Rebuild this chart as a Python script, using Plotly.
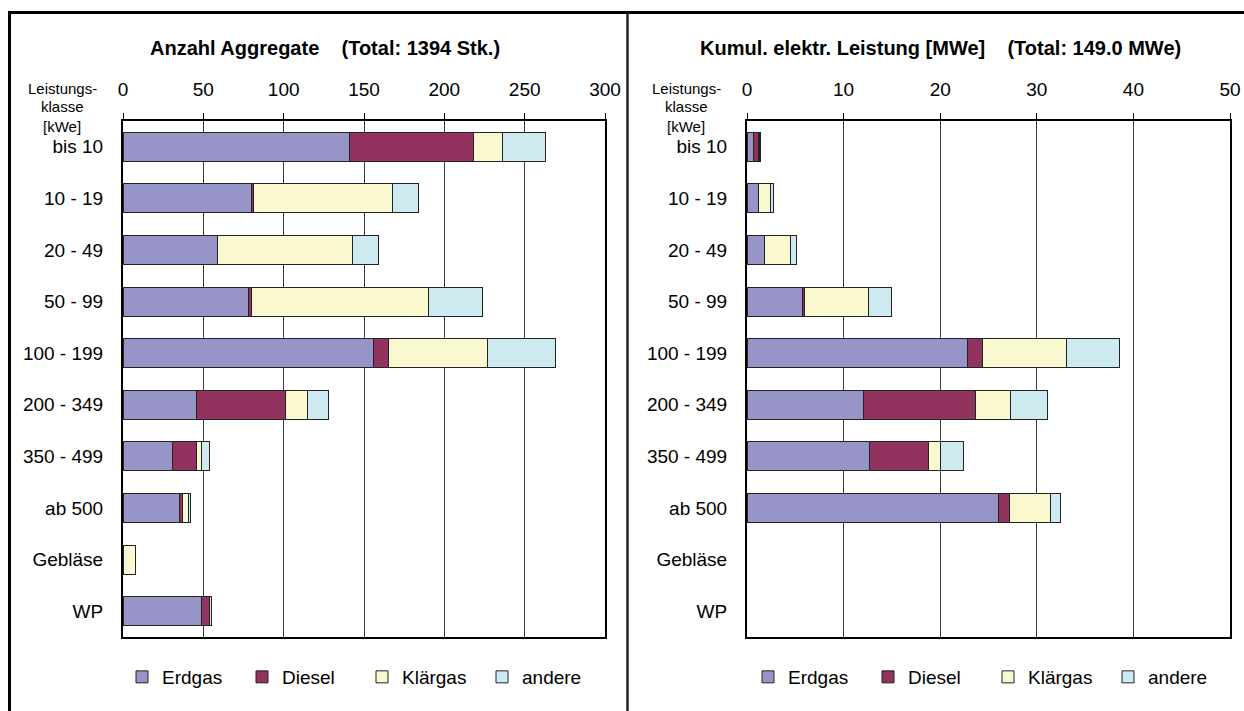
import plotly.graph_objects as go
from plotly.subplots import make_subplots

W, H = 1244, 711

# categories (Leistungsklasse)
klassen = ["bis 10", "10 - 19", "20 - 49", "50 - 99", "100 - 199",
           "200 - 349", "350 - 499", "ab 500", "Gebläse", "WP"]

# Anzahl Aggregate [Stk.]
anz_erdgas = [141, 80, 59, 78, 156, 46, 31, 35, 0, 49]
anz_diesel = [77, 1, 0, 2, 9, 55, 15, 2, 0, 5]
anz_klaergas = [18, 87, 84, 110, 62, 14, 3, 4, 8, 0]
anz_andere = [27, 16, 16, 34, 42, 13, 5, 1, 0, 1]

# Kumul. elektr. Leistung [MWe]
mw_erdgas = [0.7, 1.24, 1.79, 5.76, 22.8, 12.1, 12.7, 26.0, 0, 0]
mw_diesel = [0.45, 0.0, 0.0, 0.2, 1.55, 11.6, 6.1, 1.2, 0, 0]
mw_klaergas = [0.12, 1.24, 2.76, 6.6, 8.7, 3.6, 1.2, 4.2, 0, 0]
mw_andere = [0.11, 0.28, 0.55, 2.4, 5.5, 3.8, 2.4, 1.1, 0, 0]

serien = ["Erdgas", "Diesel", "Klärgas", "andere"]
farben = ["#9794c8", "#91325f", "#faf8cf", "#cdeaf0"]

FONT = "Arial, Liberation Sans, sans-serif"


# screen pixel -> paper fraction (body margin removed, see write_html)
def px_x(x):
    return x / W


def px_y(y):
    return 1 - y / H


def leer(vals):
    # empty cells are not drawn at all (no outline stub at zero)
    return [v if v else None for v in vals]


fig = make_subplots(rows=1, cols=2)

links = [anz_erdgas, anz_diesel, anz_klaergas, anz_andere]
rechts = [mw_erdgas, mw_diesel, mw_klaergas, mw_andere]

for name, farbe, vals in zip(serien, farben, links):
    fig.add_trace(go.Bar(y=klassen, x=leer(vals), name=name, orientation="h",
                         marker=dict(color=farbe, line=dict(color="#222", width=1)),
                         legend="legend"), row=1, col=1)

for name, farbe, vals in zip(serien, farben, rechts):
    fig.add_trace(go.Bar(y=klassen, x=leer(vals), name=name, orientation="h",
                         marker=dict(color=farbe, line=dict(color="#222", width=1)),
                         legend="legend2"), row=1, col=2)

xcommon = dict(side="top", ticks="outside", ticklen=6, tickcolor="black",
               showgrid=True, gridcolor="#3a3a3a", gridwidth=1,
               showline=True, linecolor="black", linewidth=2, mirror=True,
               zeroline=False, automargin=False, ticklabeloverflow="allow",
               tickfont=dict(family=FONT, size=19, color="black"),
               ticklabelstandoff=9)
ycommon = dict(autorange="reversed", showline=True, linecolor="black",
               linewidth=2, mirror=True, ticks="", automargin=False,
               tickfont=dict(family=FONT, size=19, color="black"),
               ticklabelstandoff=14)

fig.update_xaxes(xcommon)
fig.update_yaxes(ycommon)
fig.update_xaxes(range=[0, 300], dtick=50, domain=[px_x(123), px_x(605)], row=1, col=1)
fig.update_xaxes(range=[0, 50], dtick=10, domain=[px_x(747), px_x(1230)], row=1, col=2)
fig.update_yaxes(domain=[px_y(637), px_y(121)])

leg = dict(orientation="h", y=px_y(677), yanchor="middle", xanchor="center",
           font=dict(family=FONT, size=19), itemwidth=30, entrywidth=75,
           traceorder="normal", bgcolor="rgba(0,0,0,0)")

fig.update_layout(
    width=W, height=H,
    margin=dict(l=0, r=0, t=0, b=0, autoexpand=False),
    paper_bgcolor="white", plot_bgcolor="white",
    barmode="stack", bargap=0.44,
    font=dict(family=FONT, color="black"),
    legend=dict(leg, x=px_x(362)),
    legend2=dict(leg, x=px_x(988)),
)

# titles
fig.add_annotation(text="<b>Anzahl Aggregate    (Total: 1394 Stk.)</b>",
                   x=px_x(325), y=px_y(48), xref="paper", yref="paper",
                   xanchor="center", yanchor="middle",
                   showarrow=False, font=dict(family=FONT, size=20))
fig.add_annotation(text="<b>Kumul. elektr. Leistung [MWe]    (Total: 149.0 MWe)</b>",
                   x=px_x(940), y=px_y(48), xref="paper", yref="paper",
                   xanchor="center", yanchor="middle",
                   showarrow=False, font=dict(family=FONT, size=20))

# caption of the category axis
for cx in [62, 686]:
    for zeile, cy in zip(["Leistungs-", "klasse", "[kWe]"], [88, 107, 126]):
        fig.add_annotation(text=zeile, x=px_x(cx), y=px_y(cy), xref="paper",
                           yref="paper", xanchor="center", yanchor="middle",
                           showarrow=False, font=dict(family=FONT, size=15))

# outer frame (top and left edge) and divider
fig.add_shape(type="line", xref="paper", yref="paper",
              x0=px_x(8), x1=1, y0=px_y(12.5), y1=px_y(12.5),
              line=dict(color="black", width=3))
fig.add_shape(type="line", xref="paper", yref="paper",
              x0=px_x(9.5), x1=px_x(9.5), y0=0, y1=px_y(11),
              line=dict(color="black", width=3))
fig.add_shape(type="line", xref="paper", yref="paper",
              x0=px_x(627.5), x1=px_x(627.5), y0=0, y1=px_y(12.5),
              line=dict(color="#222", width=2.5))

# page without body margin so the figure fills the window exactly
fig.write_html("out.html", config={"displayModeBar": False},
               post_script="document.body.style.margin='0';"
                           "document.body.style.overflow='hidden';")
